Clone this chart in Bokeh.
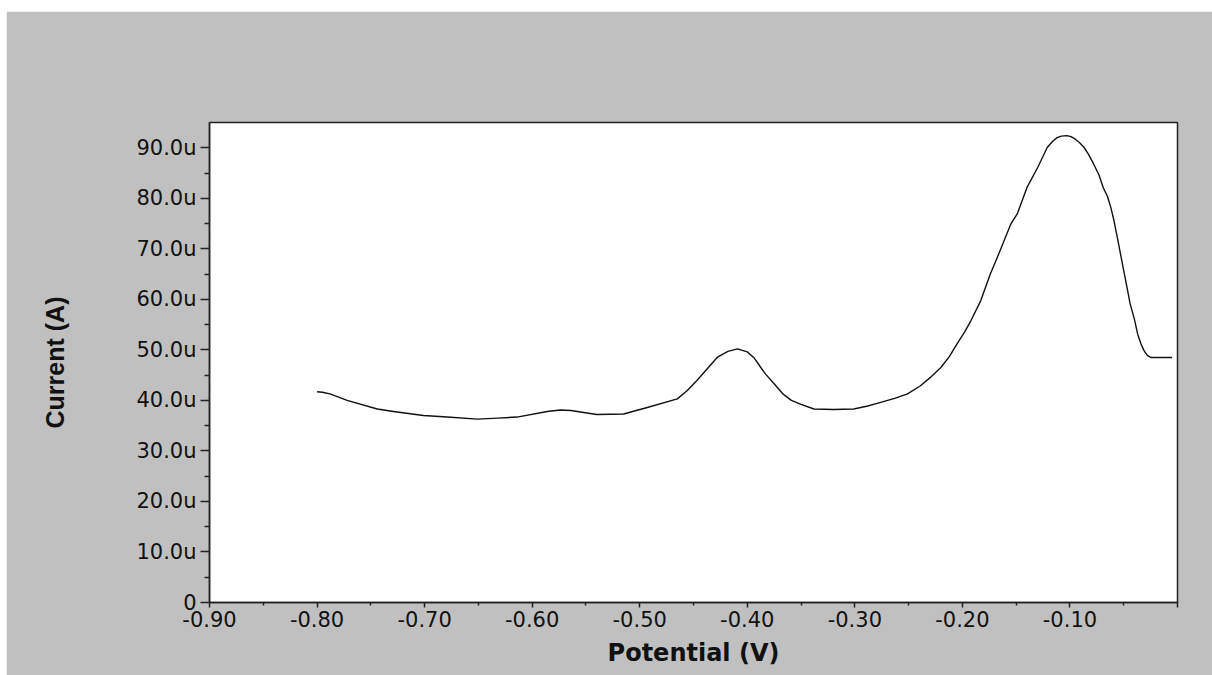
from bokeh.plotting import figure
from bokeh.models import FixedTicker, Range1d
from bokeh.embed import file_html
from bokeh.resources import INLINE

# Data (potential in V, current in microamps)
potential_V = [-0.800, -0.795, -0.788, -0.772, -0.744, -0.729, -0.701, -0.679, -0.651, -0.632,
               -0.614, -0.586, -0.574, -0.564, -0.540, -0.515, -0.493, -0.465, -0.456, -0.447,
               -0.437, -0.428, -0.418, -0.409, -0.400, -0.394, -0.389, -0.383, -0.375, -0.367,
               -0.359, -0.350, -0.338, -0.320, -0.301, -0.288, -0.276, -0.263, -0.251, -0.239,
               -0.230, -0.220, -0.212, -0.205, -0.198, -0.192, -0.183, -0.174, -0.165, -0.155,
               -0.149, -0.140, -0.130, -0.121, -0.116, -0.112, -0.108, -0.103, -0.099, -0.095,
               -0.091, -0.087, -0.083, -0.078, -0.073, -0.069, -0.065, -0.062, -0.059, -0.056,
               -0.053, -0.050, -0.047, -0.044, -0.040, -0.037, -0.034, -0.031, -0.028, -0.025,
               -0.020, -0.005]
current_uA = [41.7, 41.6, 41.3, 40.0, 38.3, 37.8, 37.0, 36.7, 36.3, 36.5,
              36.7, 37.8, 38.1, 38.0, 37.2, 37.3, 38.6, 40.3, 41.9, 43.9,
              46.3, 48.5, 49.7, 50.2, 49.6, 48.5, 47.0, 45.2, 43.3, 41.3,
              40.0, 39.2, 38.3, 38.2, 38.3, 38.9, 39.6, 40.4, 41.3, 42.9,
              44.5, 46.5, 48.7, 51.2, 53.5, 55.8, 59.7, 65.0, 69.6, 74.9,
              76.9, 82.1, 86.1, 90.1, 91.3, 92.0, 92.3, 92.4, 92.2, 91.7,
              91.0, 90.1, 88.8, 86.8, 84.6, 82.1, 80.3, 78.2, 75.5, 72.3,
              69.0, 65.7, 62.4, 59.1, 56.0, 53.1, 51.2, 49.8, 48.9, 48.5,
              48.5, 48.5]

x_ticks = [-0.9, -0.8, -0.7, -0.6, -0.5, -0.4, -0.3, -0.2, -0.1, 0.0]
x_tick_labels = ["-0.90", "-0.80", "-0.70", "-0.60", "-0.50", "-0.40", "-0.30", "-0.20", "-0.10", ""]
x_minor_ticks = [-0.85, -0.75, -0.65, -0.55, -0.45, -0.35, -0.25, -0.15, -0.05]
y_ticks = [0, 10, 20, 30, 40, 50, 60, 70, 80, 90]
y_tick_labels = ["0", "10.0u", "20.0u", "30.0u", "40.0u", "50.0u", "60.0u", "70.0u", "80.0u", "90.0u"]
y_minor_ticks = [5, 15, 25, 35, 45, 55, 65, 75, 85]

GRAY = "#C0C0C0"

p = figure(frame_width=968, frame_height=480,
           min_border_left=203, min_border_right=35, min_border_top=111, min_border_bottom=73,
           x_range=Range1d(-0.9, 0.0), y_range=Range1d(0, 95),
           output_backend="svg", toolbar_location=None,
           background_fill_color="white", border_fill_color=GRAY)
p.margin = (11, 0, 0, 6)

p.line(potential_V, current_uA, line_color="#111111", line_width=1.4, line_join="round")

p.xgrid.visible = False
p.ygrid.visible = False
p.outline_line_color = "#222222"
p.outline_line_width = 1.5

xa = p.xaxis[0]
xa.ticker = FixedTicker(ticks=x_ticks, minor_ticks=x_minor_ticks)
xa.major_label_overrides = dict(zip(x_ticks, x_tick_labels))
xa.axis_label = "Potential (V)"
xa.axis_line_color = "#222222"
xa.axis_line_width = 1.5
xa.major_tick_line_color = "#222222"
xa.minor_tick_line_color = "#222222"
xa.major_tick_line_width = 1.5
xa.minor_tick_line_width = 1.5
xa.major_tick_in = 0
xa.major_tick_out = 5
xa.minor_tick_in = 0
xa.minor_tick_out = 3
xa.major_label_standoff = 3
xa.major_label_text_font = "DejaVu Sans"
xa.major_label_text_font_size = "21px"
xa.major_label_text_color = "#111111"
xa.axis_label_text_font = "DejaVu Sans"
xa.axis_label_text_font_style = "bold"
xa.axis_label_text_font_size = "24px"
xa.axis_label_text_color = "#111111"
xa.axis_label_standoff = 9

ya = p.yaxis[0]
ya.ticker = FixedTicker(ticks=y_ticks, minor_ticks=y_minor_ticks)
ya.major_label_overrides = dict(zip(y_ticks, y_tick_labels))
ya.axis_label = "Current (A)"
ya.axis_line_color = "#222222"
ya.axis_line_width = 1.5
ya.major_tick_line_color = "#222222"
ya.minor_tick_line_color = "#222222"
ya.major_tick_line_width = 1.5
ya.minor_tick_line_width = 1.5
ya.major_tick_in = 0
ya.major_tick_out = 9
ya.minor_tick_in = 0
ya.minor_tick_out = 5
ya.major_label_standoff = 4
ya.major_label_text_font = "DejaVu Sans"
ya.major_label_text_font_size = "21px"
ya.major_label_text_color = "#111111"
ya.axis_label_text_font = "Liberation Sans"
ya.axis_label_text_font_style = "bold"
ya.axis_label_text_font_size = "25px"
ya.axis_label_text_color = "#111111"
ya.axis_label_standoff = 64

open("out.html", "w").write(file_html(p, INLINE))
